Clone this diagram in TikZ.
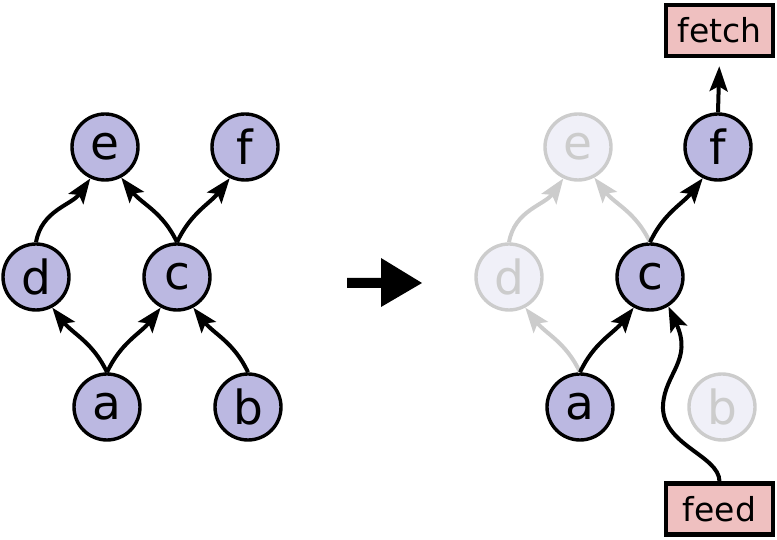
\documentclass[tikz,border=0pt]{standalone}
\usepackage{fontspec}
\setmainfont{DejaVu Sans}
\usetikzlibrary{arrows.meta}
\definecolor{nodefill}{RGB}{187,184,225}
\definecolor{ghostfill}{RGB}{240,240,248}
\definecolor{ghostline}{RGB}{204,204,204}
\definecolor{boxfill}{RGB}{239,192,192}
\tikzset{
  vert/.style={circle, draw=black, fill=nodefill, line width=3.4pt, minimum size=66pt, inner sep=0pt, font=\fontsize{47}{50}\selectfont},
  ghost/.style={vert, draw=ghostline, fill=ghostfill, text=ghostline},
  opbox/.style={rectangle, draw=black, fill=boxfill, line width=4.5pt, minimum width=107pt, minimum height=51pt, inner sep=0pt, font=\fontsize{33}{36}\selectfont},
  conn/.style={line width=4pt, arrows={-Stealth[length=25pt,width=18pt,inset=5pt]}},
  gconn/.style={conn, draw=ghostline},
}
\begin{document}
\begin{tikzpicture}[x=1pt,y=1pt]
\useasboundingbox (0,0) rectangle (777,540);
% left graph
\node[vert] (e) at (105,393) {e};
\node[vert] (f) at (245,393) {f};
\node[vert] (d) at (36,263) {d};
\node[vert] (c) at (177,263) {c};
\node[vert] (a) at (107,133) {a};
\node[vert] (b) at (248,133) {b};
\draw[conn] (d.north) to[out=80,in=-125] (e.-115);
\draw[conn] (c.north) to[out=115,in=-52] (e.-62);
\draw[conn] (c.north) to[out=65,in=-128] (f.-116);
\draw[conn] (a.north) to[out=115,in=-52] (d.-62);
\draw[conn] (a.north) to[out=65,in=-128] (c.-118);
\draw[conn] (b.north) to[out=115,in=-52] (c.-62);
% big arrow
\fill (347,252) -- (381,252) -- (381,233) -- (422,257) -- (381,282) -- (381,262) -- (347,262) -- cycle;
% right graph
\node[ghost] (e2) at (578,393) {e};
\node[vert] (f2) at (718,393) {f};
\node[ghost] (d2) at (509,263) {d};
\node[vert] (c2) at (650,263) {c};
\node[vert] (a2) at (580,133) {a};
\node[ghost] (b2) at (722,133) {b};
\node[opbox] (fetch) at (719.5,509.5) {fetch};
\node[opbox] (feed) at (719.5,31) {feed};
\draw[gconn] (d2.north) to[out=80,in=-125] (e2.-115);
\draw[gconn] (c2.north) to[out=115,in=-52] (e2.-62);
\draw[gconn] (a2.north) to[out=115,in=-52] (d2.-62);
\draw[conn] (c2.north) to[out=65,in=-128] (f2.-116);
\draw[conn] (a2.north) to[out=65,in=-128] (c2.-118);
\draw[conn, shorten >=8pt] (f2.north) -- (fetch.south);
\draw[conn] (feed.north) .. controls (719,85) and (661,95) .. (663,135) .. controls (665,167) and (693,180) .. (c2.-58);
\end{tikzpicture}
\end{document}
